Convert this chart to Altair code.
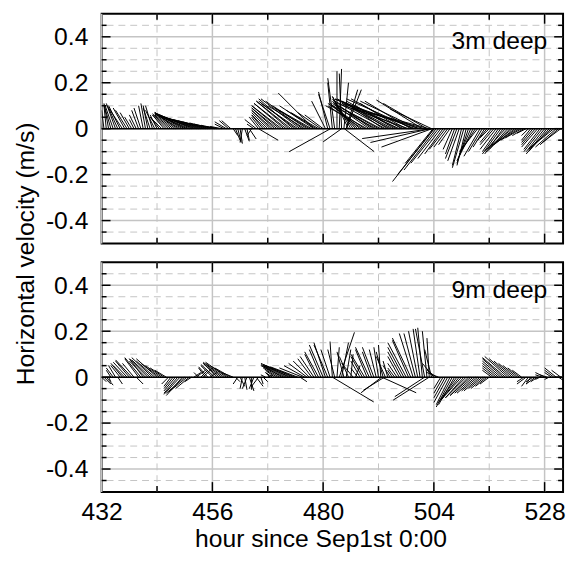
import altair as alt
import numpy as np
import pandas as pd

# regular half-hour sampling times (hours since Sep 1st 0:00)
HOURS = np.arange(432.0, 532.0, 0.5)

# ---- 3 m deep: east (U3) and north (V3) velocity, m/s ----
U3 = [
    -0.005, -0.01, -0.01, -0.02, -0.03, -0.035, -0.04, -0.045, -0.05, -0.06, -0.05, -0.05, -0.04, -0.03, -0.02, -0.03, -0.03, -0.03, -0.02, -0.02,
    -0.02, -0.03, -0.03, -0.04, -0.03, -0.04, -0.05, -0.05, -0.06, -0.07, -0.07, -0.08, -0.09, -0.10, -0.11, -0.12, -0.13, -0.14, -0.14, -0.15,
    -0.15, -0.16, -0.15, -0.16, -0.15, -0.14, -0.13, -0.12, -0.10, -0.09, -0.07, -0.06, -0.05, -0.04, -0.05, -0.04, -0.04, 0.02, 0.02, 0.015,
    0.01, -0.01, 0.02, 0.01, 0.03, -0.02, -0.03, -0.05, -0.04, -0.04, -0.05, -0.06, -0.07, -0.08, -0.09, -0.10, -0.11, -0.12, -0.13, -0.13,
    -0.14, -0.14, -0.15, -0.15, -0.16, -0.16, -0.17, -0.16, -0.16, -0.15, -0.15, -0.14, -0.15, -0.13, -0.12, -0.10, -0.08, -0.06, -0.04, -0.05,
    -0.02, -0.03, 0.0, 0.01, -0.01, 0.02, 0.05, -0.07, -0.08, -0.09, -0.10, -0.12, -0.13, -0.15, -0.16, -0.18, -0.16, -0.14, -0.17, -0.19,
    -0.16, -0.19, -0.16, -0.22, -0.16, -0.21, -0.24, -0.17, -0.22, -0.28, -0.18, -0.27, -0.24, -0.31, -0.20, -0.29, -0.35, -0.25, -0.34, -0.20,
    -0.32, -0.19, -0.26, -0.18, -0.18, -0.14, -0.12, -0.10, -0.08, -0.07, -0.06, -0.05, -0.04, -0.04, -0.05, -0.05, -0.04, -0.05, -0.04, -0.05,
    -0.06, -0.06, -0.07, -0.08, -0.07, -0.06, -0.05, -0.04, -0.04, -0.05, -0.06, -0.07, -0.07, -0.08, -0.08, -0.09, -0.09, -0.09, -0.10, -0.09,
    -0.09, -0.08, -0.07, -0.05, -0.04, -0.03, -0.04, -0.05, -0.06, -0.07, -0.07, -0.08, -0.08, -0.09, -0.09, -0.10, -0.10, -0.09, -0.08, -0.08,
]
V3 = [
    0.04, 0.08, 0.10, 0.11, 0.105, 0.10, 0.11, 0.10, 0.10, 0.09, 0.09, 0.08, 0.07, 0.05, 0.04, 0.06, 0.08, 0.09, 0.10, 0.11,
    0.10, 0.09, 0.10, 0.08, 0.06, 0.05, 0.05, 0.06, 0.06, 0.065, 0.06, 0.065, 0.07, 0.07, 0.065, 0.07, 0.07, 0.065, 0.06, 0.065,
    0.06, 0.055, 0.05, 0.05, 0.045, 0.04, 0.035, 0.03, 0.025, 0.02, 0.015, 0.01, 0.01, 0.02, 0.03, 0.035, 0.035, -0.03, -0.05, -0.06,
    -0.065, -0.06, -0.055, -0.05, -0.045, -0.03, 0.02, 0.04, 0.05, 0.05, 0.06, 0.06, 0.07, 0.08, 0.08, 0.09, 0.09, 0.10, 0.10, 0.11,
    0.11, 0.12, 0.12, 0.13, 0.12, 0.11, 0.13, 0.12, 0.10, 0.10, 0.09, 0.08, 0.10, 0.08, 0.07, 0.07, 0.06, 0.12, 0.16, 0.15,
    0.20, 0.22, 0.25, 0.26, 0.24, 0.20, 0.17, 0.14, 0.14, 0.13, 0.12, 0.11, 0.11, 0.10, 0.11, 0.10, 0.11, 0.10, 0.11, 0.10,
    0.09, 0.10, 0.11, 0.12, 0.10, 0.11, 0.13, 0.10, 0.12, 0.13, 0.11, 0.12, 0.13, 0.11, 0.12, 0.13, 0.128, 0.12, 0.11, 0.125,
    0.09, 0.11, 0.07, 0.085, -0.23, -0.18, -0.15, -0.13, -0.11, -0.09, -0.08, -0.07, -0.09, -0.11, -0.13, -0.14, -0.16, -0.17, -0.16, -0.15,
    -0.14, -0.12, -0.11, -0.10, -0.12, -0.10, -0.08, -0.05, -0.04, -0.06, -0.07, -0.09, -0.10, -0.11, -0.11, -0.10, -0.10, -0.09, -0.08, -0.07,
    -0.06, -0.05, -0.04, -0.03, -0.02, -0.03, -0.05, -0.06, -0.07, -0.08, -0.09, -0.10, -0.10, -0.11, -0.10, -0.09, -0.08, -0.08, -0.07, -0.06,
]
# extra (off-grid) sticks at 3 m
ET3 = [466.0, 478.0, 481.6, 484.0, 484.6, 485.0, 503.4, 503.2, 503.6, 504.1, 503.8]
EU3 = [0.085, -0.155, -0.18, -0.08, 0.13, 0.066, -0.30, -0.26, -0.22, -0.16, -0.12]
EV3 = [-0.05, 0.155, -0.10, -0.057, -0.10, 0.17, -0.043, -0.06, -0.08, -0.20, -0.15]

# ---- 9 m deep ----
U9 = [
    0.02, 0.03, 0.03, 0.01, -0.02, -0.03, -0.03, 0.02, -0.04, -0.05, -0.05, -0.06, -0.06, -0.07, -0.05, 0.03, -0.06, -0.07, -0.06, -0.07,
    -0.08, -0.08, -0.09, -0.08, -0.09, -0.08, -0.07, -0.06, -0.05, -0.03, -0.03, -0.04, -0.05, -0.06, -0.07, -0.07, -0.08, -0.08, -0.06, -0.03,
    0.03, 0.04, -0.02, 0.03, 0.04, -0.03, -0.04, 0.03, -0.05, -0.06, -0.06, -0.07, -0.08, -0.08, -0.09, -0.08, -0.07, -0.05, 0.02, -0.02,
    0.02, -0.01, 0.01, -0.02, 0.02, 0.00, -0.02, 0.03, -0.03, 0.01, 0.02, -0.02, 0.02, -0.02, -0.03, -0.04, -0.06, -0.07, -0.08, -0.10,
    -0.11, -0.12, -0.12, -0.13, -0.13, -0.12, 0.03, -0.10, -0.09, -0.08, -0.07, -0.06, -0.06, -0.05, -0.06, -0.05, -0.06, -0.05, -0.06, -0.04,
    -0.01, -0.03, 0.01, 0.066, 0.03, -0.03, 0.02, -0.04, 0.01, -0.05, 0.02, -0.03, -0.04, -0.05, -0.06, -0.05, -0.06, -0.04, -0.05, -0.03,
    -0.02, -0.01, -0.03, -0.04, -0.02, -0.03, -0.02, -0.03, -0.04, -0.05, -0.06, -0.07, -0.08, -0.07, -0.08, -0.06, -0.05, -0.04, -0.03, -0.02,
    -0.04, -0.02, -0.01, -0.03, -0.05, -0.04, -0.05, -0.03, -0.04, -0.05, -0.06, -0.06, -0.07, -0.07, -0.08, -0.08, -0.09, -0.08, -0.09, -0.08,
    -0.09, -0.08, -0.08, -0.07, -0.07, -0.06, -0.06, -0.05, -0.04, -0.04, -0.05, -0.06, -0.07, -0.08, -0.09, -0.10, -0.10, -0.09, -0.08, -0.07,
    -0.06, -0.05, -0.04, -0.03, -0.04, -0.03, -0.02, -0.03, -0.04, -0.03, -0.02, -0.03, -0.04, -0.03, -0.02, -0.03, -0.04, -0.05, 0.03, -0.04,
]
V9 = [
    -0.02, -0.03, -0.035, -0.02, 0.03, 0.04, 0.05, -0.03, 0.05, 0.06, 0.05, 0.065, 0.07, 0.075, 0.06, -0.03, 0.08, 0.085, 0.08, 0.07,
    0.08, 0.075, 0.085, 0.07, 0.08, 0.06, 0.05, 0.04, 0.03, -0.03, -0.04, -0.05, -0.06, -0.07, -0.075, -0.08, -0.07, -0.065, -0.05, -0.02,
    0.02, 0.03, 0.02, 0.03, 0.04, 0.04, 0.045, 0.02, 0.05, 0.055, 0.06, 0.06, 0.065, 0.06, 0.065, 0.05, 0.04, 0.02, -0.02, -0.03,
    -0.04, -0.05, -0.055, -0.05, -0.06, -0.055, -0.05, -0.04, -0.04, -0.03, -0.02, 0.01, 0.01, 0.02, 0.02, 0.03, 0.04, 0.045, 0.05, 0.05,
    0.055, 0.06, 0.05, 0.055, 0.05, 0.045, -0.02, 0.04, 0.05, 0.06, 0.07, 0.08, 0.09, 0.10, 0.11, 0.12, 0.14, 0.15, 0.14, 0.12,
    0.155, 0.12, 0.13, 0.195, 0.15, 0.11, 0.12, 0.09, 0.10, 0.06, 0.05, 0.04, 0.07, 0.09, 0.10, 0.12, 0.13, 0.11, 0.13, 0.12,
    0.13, 0.14, 0.11, 0.09, 0.07, 0.05, 0.03, 0.04, 0.06, 0.09, 0.11, 0.13, 0.15, 0.16, 0.17, 0.19, 0.19, 0.20, 0.21, 0.215,
    0.21, 0.20, 0.17, 0.12, 0.06, 0.03, 0.02, -0.05, -0.07, -0.09, -0.11, -0.12, -0.13, -0.12, -0.11, -0.10, -0.10, -0.09, -0.09, -0.08,
    -0.08, -0.07, -0.07, -0.06, -0.06, -0.05, -0.05, -0.04, -0.03, 0.03, 0.04, 0.05, 0.06, 0.07, 0.08, 0.085, 0.09, 0.08, 0.07, 0.06,
    0.05, 0.04, 0.03, -0.02, -0.03, -0.04, -0.03, -0.02, -0.03, -0.02, -0.01, 0.01, 0.02, 0.01, -0.01, 0.02, 0.03, 0.04, -0.02, 0.03,
]
ET9 = [482.0, 492.7, 493.3, 503.0, 492.7, 502.0]
EU9 = [0.18, -0.09, -0.092, -0.157, 0.15, -0.13]
EV9 = [-0.108, -0.068, -0.057, -0.10, -0.068, -0.085]

PANEL_LABELS = ["3m deep", "9m deep"]
X_TITLE = "hour since Sep1st 0:00"
Y_TITLE = "Horizontal velocity (m/s)"
X_DOMAIN = [432, 532]
Y_DOMAIN = [-0.5, 0.5]
X_MAJOR = [432, 456, 480, 504, 528]
X_MINOR = [444, 468, 492, 516]
Y_MAJOR = [-0.4, -0.2, 0.0, 0.2, 0.4]
Y_MINOR = [-0.45, -0.35, -0.3, -0.25, -0.15, -0.1, -0.05, 0.05, 0.1, 0.15, 0.25, 0.3, 0.35, 0.45]

W, H, GAP = 468, 233, 19
# hours per (m/s) so that a stick keeps its true direction on screen
K = (H / (Y_DOMAIN[1] - Y_DOMAIN[0])) / (W / (X_DOMAIN[1] - X_DOMAIN[0]))

FONT = "Liberation Sans"
GRID = "#c4c4c4"
LABEL_EXPR = "datum.value == 0 ? '0' : replace(format(datum.value, '.1f'), '\u2212', '-')"
PAD = {"left": 4, "top": 0, "right": 0, "bottom": 0}


def panel(t, u, v, label, bottom):
    xs = alt.Scale(domain=X_DOMAIN, nice=False, zero=False)
    ys = alt.Scale(domain=Y_DOMAIN, nice=False, zero=False)

    yaxis_kw = dict(values=Y_MAJOR, grid=False, ticks=False, domain=False,
                    labelFontSize=25, labelPadding=14, labelColor="black",
                    labelExpr=LABEL_EXPR, labelFont=FONT)
    if bottom:
        yaxis_kw.update(title=Y_TITLE, titleFontSize=25, titleFontWeight="normal",
                        titleFont=FONT, titleColor="black", titleAngle=270,
                        titleBaseline="alphabetic", titleAlign="center",
                        titleX=-69, titleY=-9)
    else:
        yaxis_kw.update(title="")
    yaxis = alt.Axis(**yaxis_kw)

    if bottom:
        xaxis = alt.Axis(values=X_MAJOR, grid=False, ticks=False, domain=False,
                         labelFontSize=25, labelPadding=8, labelColor="black",
                         labelFlush=False, format="d", labelFont=FONT,
                         title=X_TITLE, titleFontSize=25, titleFontWeight="normal",
                         titleFont=FONT, titleColor="black", titleAlign="center",
                         titleBaseline="alphabetic", titleY=55, titleX=222)
    else:
        xaxis = None

    def Y(field):
        return alt.Y(field, scale=ys, axis=yaxis)

    def X(field):
        return alt.X(field, scale=xs, axis=xaxis)

    grid_y_solid = alt.Chart(pd.DataFrame({"y": Y_MAJOR})).mark_rule(
        color=GRID, strokeWidth=1.5).encode(y=Y("y:Q"))
    grid_y_dash = alt.Chart(pd.DataFrame({"y": Y_MINOR})).mark_rule(
        color=GRID, strokeWidth=1, strokeDash=[7, 5]).encode(y=Y("y:Q"))
    grid_x_solid = alt.Chart(pd.DataFrame({"x": X_MAJOR})).mark_rule(
        color=GRID, strokeWidth=1.5).encode(x=X("x:Q"))
    grid_x_dash = alt.Chart(pd.DataFrame({"x": X_MINOR})).mark_rule(
        color=GRID, strokeWidth=1, strokeDash=[7, 5]).encode(x=X("x:Q"))

    df = pd.DataFrame({"t": t, "u": u, "v": v})
    sticks = alt.Chart(df).transform_calculate(
        tip=f"datum.t + datum.u * {K}", zero="0"
    ).mark_rule(color="black", strokeWidth=1, clip=True).encode(
        x=X("t:Q"), x2="tip:Q", y=Y("zero:Q"), y2="v:Q")

    zero = alt.Chart(pd.DataFrame({"y": [0.0]})).mark_rule(
        color="black", strokeWidth=1.5).encode(y=Y("y:Q"))

    tick_layers = []
    for vals, ln in ((Y_MAJOR, 9), (Y_MINOR, 5)):
        d = pd.DataFrame({"y": vals})
        tick_layers.append(alt.Chart(d).mark_rule(color="black", strokeWidth=1.5).encode(
            y=Y("y:Q"), x=alt.value(0), x2=alt.value(ln)))
        tick_layers.append(alt.Chart(d).mark_rule(color="black", strokeWidth=1.5).encode(
            y=Y("y:Q"), x=alt.value(W), x2=alt.value(W - ln)))
    for vals, ln in ((X_MAJOR[1:], 10), (X_MINOR, 6)):
        d = pd.DataFrame({"x": vals})
        tick_layers.append(alt.Chart(d).mark_rule(color="black", strokeWidth=1.5).encode(
            x=X("x:Q"), y=alt.value(0), y2=alt.value(ln)))
        tick_layers.append(alt.Chart(d).mark_rule(color="black", strokeWidth=1.5).encode(
            x=X("x:Q"), y=alt.value(H), y2=alt.value(H - ln)))

    text = alt.Chart(pd.DataFrame({"label": [label]})).mark_text(
        align="right", baseline="alphabetic", fontSize=25, font=FONT, color="black"
    ).encode(x=alt.value(W - 16), y=alt.value(36), text="label:N")

    return alt.layer(grid_y_solid, grid_y_dash, grid_x_solid, grid_x_dash,
                     sticks, zero, *tick_layers, text).properties(width=W, height=H)


top = panel(list(HOURS) + ET3, U3 + EU3, V3 + EV3, PANEL_LABELS[0], False)
bottom = panel(list(HOURS) + ET9, U9 + EU9, V9 + EV9, PANEL_LABELS[1], True)

chart = alt.vconcat(top, bottom, spacing=GAP, bounds="flush", padding=PAD).configure(
    font=FONT, background="white").configure_view(stroke="black", strokeWidth=2)

chart.save("out.html", embed_options={"renderer": "svg", "actions": False})
